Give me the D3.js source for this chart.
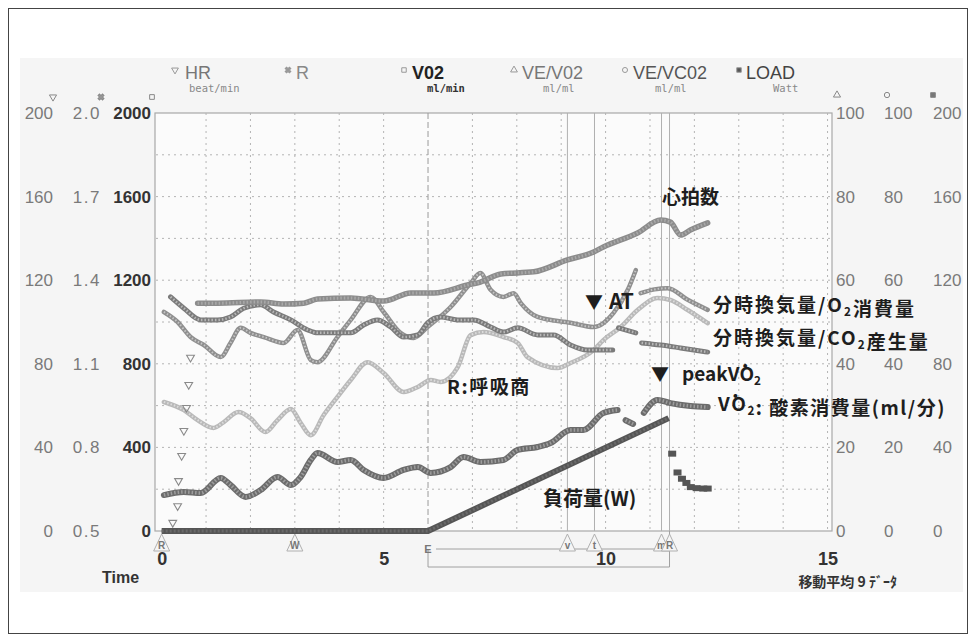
<!DOCTYPE html>
<html>
<head>
<meta charset="utf-8">
<script src="https://cdn.jsdelivr.net/npm/d3@7"></script>
<style>
  body { margin: 0; background: #fff; }
  text { font-family: "Liberation Sans Narrow", "Liberation Sans", Arial, sans-serif; }
  .jp { font-family: "Noto Sans CJK JP", "Noto Sans", sans-serif; font-weight: 700; fill: #1e1e1e; }
</style>
</head>
<body>
<div id="chart"></div>
<script>
// ---- data (time in minutes) ----
const timeTicks = [0, 5, 10, 15];
const hrTicks = [0, 40, 80, 120, 160, 200];
const rTicks = [0.5, 0.8, 1.1, 1.4, 1.7, 2.0];
const vo2Ticks = [0, 400, 800, 1200, 1600, 2000];
const veTicks = [0, 20, 40, 60, 80, 100];
const loadTicks = [0, 40, 80, 120, 160, 200];

// HR: first scattered samples, then the smoothed trace (beat/min)
const hrRise = [[0.25, 4], [0.36, 12], [0.38, 24], [0.45, 36], [0.50, 48], [0.56, 59], [0.61, 70], [0.65, 83]];
const hrTrace = [[0.81, 109], [1.26, 109], [2.23, 109.6], [2.75, 108.6], [3.2, 109], [3.51, 111], [4.26, 111.5],
  [5.0, 110], [5.61, 113.9], [6.13, 113.9], [6.89, 117.7], [7.18, 119.1], [7.64, 123], [8.38, 124], [9.14, 129.7],
  [9.73, 133.5], [9.95, 135.9], [10.72, 142.6], [11.24, 148.8], [11.46, 147.8], [11.69, 141.6], [11.91, 144], [12.3, 147.4]];

// R: respiratory quotient
const rTrace = [[0.05, 0.963], [0.5, 0.934], [0.81, 0.898], [1.17, 0.870], [1.40, 0.891], [1.73, 0.927], [2.0, 0.905],
  [2.34, 0.855], [2.61, 0.898], [2.91, 0.938], [3.13, 0.888], [3.36, 0.844], [3.65, 0.916], [3.96, 0.981], [4.26, 1.042],
  [4.64, 1.106], [5.0, 1.067], [5.45, 0.999], [5.77, 1.017], [6.06, 1.042], [6.28, 1.035], [6.67, 1.088], [6.96, 1.203],
  [7.25, 1.214], [7.7, 1.196], [8.02, 1.175], [8.24, 1.124], [8.92, 1.085], [9.21, 1.103], [9.73, 1.149], [9.95, 1.185],
  [10.34, 1.232], [10.72, 1.293], [11.17, 1.336], [11.46, 1.329], [11.85, 1.293], [12.3, 1.246]];

// VO2 (ml/min)
const vo2Trace = [[0.05, 172], [0.5, 187], [0.88, 182], [1.33, 254], [1.55, 220], [1.89, 163], [2.23, 196], [2.61, 258],
  [2.91, 220], [3.13, 258], [3.36, 340], [3.51, 373], [3.96, 330], [4.26, 340], [4.55, 292], [5.0, 254], [5.45, 292],
  [5.77, 306], [6.06, 278], [6.51, 306], [6.8, 354], [7.18, 330], [7.7, 340], [8.02, 388], [8.47, 402], [8.76, 421],
  [9.21, 483], [9.5, 483], [9.95, 565], [10.27, 579], null, [10.45, 530], [10.62, 512], null, [10.86, 565], [11.17, 627],
  [11.46, 612], [11.91, 598], [12.3, 593]];

// VE/VO2 (ml/ml)
const veVo2Trace = [[0.05, 52.4], [0.36, 50.0], [0.65, 46.4], [0.95, 44.5], [1.33, 41.6], [1.55, 45.0], [1.78, 48.6],
  [2.0, 47.4], [2.3, 46.4], [2.75, 45.0], [3.06, 48.1], [3.36, 40.9], [3.51, 40.4], [3.96, 46.4], [4.26, 50.5],
  [4.71, 56.0], [5.0, 52.4], [5.38, 47.4], [5.68, 46.2], [5.99, 48.8], [6.51, 53.6], [6.96, 59.3], [7.18, 61.7],
  [7.41, 57.7], [7.7, 56.0], [7.93, 56.9], [8.09, 54.5], [8.47, 51.2], [9.21, 49.8], [9.73, 48.8], [10.18, 52.2],
  [10.5, 57.7], [10.68, 62.4], null, [10.79, 56.9], [11.1, 57.8], [11.4, 58.1], [11.85, 55.3], [12.3, 52.9]];

// VE/VCO2 (ml/ml)
const veVco2Trace = [[0.2, 56.0], [0.5, 53.3], [0.88, 50.5], [1.26, 50.5], [1.55, 51.2], [1.85, 53.3], [2.23, 54.1],
  [2.52, 52.4], [2.91, 50.5], [3.29, 48.1], [3.51, 47.4], [4.26, 47.4], [4.55, 49.3], [4.86, 50.5], [5.16, 48.8],
  [5.45, 46.4], [5.77, 46.9], [5.99, 49.8], [6.28, 51.2], [6.67, 50.5], [7.03, 50.5], [7.41, 48.8], [7.7, 47.6],
  [8.02, 48.6], [8.47, 46.9], [8.83, 46.9], [9.21, 44.5], [9.59, 43.3], [10.16, 43.3], null, [10.29, 48.6],
  [10.68, 47.4], null, [10.81, 45.0], [11.24, 44.5], [11.69, 43.8], [12.3, 42.8]];

// LOAD (Watt): ramp, then recovery samples
const loadRamp = [[0, 0], [6, 0], [11.42, 54]];
const loadRecovery = [[11.5, 37], [11.62, 28], [11.72, 25], [11.82, 23], [11.92, 21], [12.05, 20.5], [12.2, 20.3], [12.3, 20.3]];

// event marks on the time axis
const eventTimes = [0, 3.0, 9.14, 9.75, 11.26, 11.44];
const eventLabels = ["R", "W", "v", "t", "m", "R"];
const exerciseStart = 6.0;

const W = 976, H = 642;
const svg = d3.select("#chart").append("svg")
  .attr("width", W).attr("height", H);

// outer frame + scanned paper tone
svg.append("rect").attr("x", 8.5).attr("y", 8.5).attr("width", 959).attr("height", 625)
  .attr("fill", "#fff").attr("stroke", "#444").attr("stroke-width", 1);
svg.append("rect").attr("x", 20).attr("y", 58).attr("width", 943).attr("height", 534)
  .attr("fill", "#f5f5f5");

// scales
const x = d3.scaleLinear().domain([-0.15, 15.1]).range([155, 832]);
const yTop = 113, yBot = 531;
const yVo2 = d3.scaleLinear().domain([0, 2000]).range([yBot, yTop]);
const yHr = d3.scaleLinear().domain([0, 200]).range([yBot, yTop]);
const yR = d3.scaleLinear().domain([0.5, 2.0]).range([yBot, yTop]);
const yVe = d3.scaleLinear().domain([0, 100]).range([yBot, yTop]);
const yLoad = d3.scaleLinear().domain([0, 200]).range([yBot, yTop]);

// plot box
svg.append("rect").attr("x", 155).attr("y", yTop).attr("width", 832 - 155).attr("height", yBot - yTop)
  .attr("fill", "#fbfbfb").attr("stroke", "#a8a8a8").attr("stroke-width", 1.2);

// grid
const grid = svg.append("g");
grid.selectAll("line.h").data(d3.range(200, 2000, 200)).enter().append("line")
  .attr("x1", 156).attr("x2", 831)
  .attr("y1", d => yVo2(d)).attr("y2", d => yVo2(d))
  .attr("stroke", "#b4b4b4").attr("stroke-dasharray", "2,4");
grid.selectAll("line.v").data(d3.range(1, 16)).enter().append("line")
  .attr("x1", d => x(d)).attr("x2", d => x(d))
  .attr("y1", yTop).attr("y2", yBot)
  .attr("stroke", d => d === exerciseStart ? "#9a9a9a" : "#b4b4b4")
  .attr("stroke-dasharray", d => d === exerciseStart ? "6,3" : "2,4");

// event lines
grid.selectAll("line.ev").data(eventTimes.slice(2)).enter().append("line")
  .attr("x1", d => x(d)).attr("x2", d => x(d))
  .attr("y1", yTop).attr("y2", yBot)
  .attr("stroke", "#b0b0b0").attr("stroke-width", 1);

// axes (labels only)
function labelAxis(axis, xpos, color, weight) {
  const g = svg.append("g").attr("transform", `translate(${xpos},0)`).call(axis);
  g.select(".domain").remove();
  g.selectAll(".tick line").remove();
  g.selectAll("text").attr("fill", color).style("font-size", "17px").style("font-weight", weight);
  return g;
}
const intFmt = d3.format("d");
labelAxis(d3.axisLeft(yHr).tickValues(hrTicks).tickSize(0).tickPadding(0).tickFormat(intFmt), 53, "#7a7a7a", 400);
labelAxis(d3.axisLeft(yR).tickValues(rTicks).tickSize(0).tickPadding(0).tickFormat(d3.format(".1f")), 101, "#7a7a7a", 400)
  .selectAll("text").style("letter-spacing", "1.5px");
labelAxis(d3.axisLeft(yVo2).tickValues(vo2Ticks).tickSize(0).tickPadding(0).tickFormat(intFmt), 151, "#333", 700);
labelAxis(d3.axisRight(yVe).tickValues(veTicks).tickSize(0).tickPadding(0).tickFormat(intFmt), 836, "#7a7a7a", 400);
labelAxis(d3.axisRight(yVe).tickValues(veTicks).tickSize(0).tickPadding(0).tickFormat(intFmt), 884, "#7a7a7a", 400);
labelAxis(d3.axisRight(yLoad).tickValues(loadTicks).tickSize(0).tickPadding(0).tickFormat(intFmt), 933, "#7a7a7a", 400);

const xAxis = svg.append("g").attr("transform", `translate(0,${yBot})`)
  .call(d3.axisBottom(x).tickValues(timeTicks).tickSize(0).tickPadding(0).tickFormat(intFmt));
xAxis.select(".domain").remove();
xAxis.selectAll("text").attr("y", 28).attr("dy", "0.35em")
  .attr("fill", "#333").style("font-size", "18px").style("font-weight", 700);

svg.append("text").attr("x", 102).attr("y", 583).attr("fill", "#333")
  .style("font-size", "16px").style("font-weight", 700).text("Time");
svg.append("text").attr("x", 897).attr("y", 587).attr("text-anchor", "end").attr("fill", "#333")
  .style("font-size", "14px").style("font-weight", 700)
  .style("font-family", "'Noto Sans CJK JP', sans-serif").text("移動平均 9 ﾃﾞｰﾀ");

// little series symbols above the tick columns
const sym = (type, size) => d3.symbol().type(type).size(size)();
const colSyms = [
  {x: 53, y: 97, t: d3.symbolTriangle, r: 180, fill: "none"},
  {x: 101, y: 97, t: d3.symbolCross, r: 45, fill: "#999"},
  {x: 152, y: 97, t: d3.symbolSquare, r: 0, fill: "none"},
  {x: 837, y: 95, t: d3.symbolTriangle, r: 0, fill: "none"},
  {x: 887, y: 95, t: d3.symbolCircle, r: 0, fill: "none"},
  {x: 933, y: 95, t: d3.symbolSquare, r: 0, fill: "#777"}
];
svg.selectAll("path.colsym").data(colSyms).enter().append("path")
  .attr("d", d => sym(d.t, 22))
  .attr("transform", d => `translate(${d.x},${d.y}) rotate(${d.r})`)
  .attr("fill", d => d.fill).attr("stroke", "#888").attr("stroke-width", 1);

// legend
const legend = [
  {sx: 175, tx: 185, name: "HR", unit: "beat/min", ux: 189, sym: d3.symbolTriangle, rot: 180, fill: "none", col: "#777", w: 400},
  {sx: 288, tx: 296, name: "R", unit: "", ux: 0, sym: d3.symbolCross, rot: 45, fill: "#999", col: "#888", w: 400},
  {sx: 404, tx: 412, name: "V02", unit: "ml/min", ux: 427, sym: d3.symbolSquare, rot: 0, fill: "none", col: "#222", w: 700},
  {sx: 514, tx: 522, name: "VE/V02", unit: "ml/ml", ux: 543, sym: d3.symbolTriangle, rot: 0, fill: "none", col: "#777", w: 400},
  {sx: 625, tx: 633, name: "VE/VC02", unit: "ml/ml", ux: 655, sym: d3.symbolCircle, rot: 0, fill: "none", col: "#555", w: 400},
  {sx: 739, tx: 746, name: "LOAD", unit: "Watt", ux: 773, sym: d3.symbolSquare, rot: 0, fill: "#555", col: "#444", w: 400}
];
const lg = svg.append("g");
lg.selectAll("path").data(legend).enter().append("path")
  .attr("d", d => sym(d.sym, 20))
  .attr("transform", d => `translate(${d.sx},70) rotate(${d.rot})`)
  .attr("fill", d => d.fill).attr("stroke", "#999");
lg.selectAll("text.name").data(legend).enter().append("text")
  .attr("x", d => d.tx).attr("y", 79).attr("fill", d => d.col)
  .style("font-size", "18px").style("font-weight", d => d.w).text(d => d.name);
lg.selectAll("text.unit").data(legend).enter().append("text")
  .attr("x", d => d.ux).attr("y", 92).attr("fill", d => d.col === "#222" ? "#333" : "#888")
  .style("font-size", "10.5px").style("font-weight", d => d.w)
  .style("font-family", "'DejaVu Sans Mono', monospace").text(d => d.unit);

// traces
const plot = svg.append("g");
function trace(data, yScale, color, width, texture) {
  const line = d3.line().defined(d => d !== null)
    .x(d => x(d[0])).y(d => yScale(d[1])).curve(d3.curveMonotoneX);
  plot.append("path").datum(data).attr("d", line)
    .attr("fill", "none").attr("stroke", color).attr("stroke-width", width)
    .attr("stroke-linejoin", "round").attr("stroke-linecap", "round");
  plot.append("path").datum(data).attr("d", line)
    .attr("fill", "none").attr("stroke", texture).attr("stroke-width", width - 2.5)
    .attr("stroke-dasharray", "1.5,2");
}
trace(rTrace, yR, "#b9b9b9", 4.5, "#dcdcdc");
trace(veVo2Trace, yVe, "#8f8f8f", 4.5, "#c4c4c4");
trace(veVco2Trace, yVe, "#7b7b7b", 5, "#b8b8b8");
trace(hrTrace, yHr, "#8c8c8c", 5.5, "#a9a9a9");
trace(vo2Trace, yVo2, "#6c6c6c", 6, "#9d9d9d");

// load ramp (dense squares) and recovery marks
plot.append("path").datum(loadRamp)
  .attr("d", d3.line().x(d => x(d[0])).y(d => yLoad(d[1])))
  .attr("fill", "none").attr("stroke", "#555").attr("stroke-width", 6);
plot.append("path").datum(loadRamp)
  .attr("d", d3.line().x(d => x(d[0])).y(d => yLoad(d[1])))
  .attr("fill", "none").attr("stroke", "#6a6a6a").attr("stroke-width", 3).attr("stroke-dasharray", "2,2");
plot.selectAll("rect.rec").data(loadRecovery).enter().append("rect")
  .attr("x", d => x(d[0]) - 4).attr("y", d => yLoad(d[1]) - 3)
  .attr("width", 8).attr("height", 6).attr("fill", "#555");

// early HR samples
plot.selectAll("path.hr0").data(hrRise).enter().append("path")
  .attr("d", sym(d3.symbolTriangle, 26))
  .attr("transform", d => `translate(${x(d[0])},${yHr(d[1])}) rotate(180)`)
  .attr("fill", "none").attr("stroke", "#8a8a8a").attr("stroke-width", 1.1);

// event markers and exercise bracket
const ev = svg.append("g");
ev.append("path")
  .attr("d", `M${x(exerciseStart)},${yBot + 36}H${x(11.44)}V${yBot}`)
  .attr("fill", "none").attr("stroke", "#a0a0a0");
ev.append("line").attr("x1", x(exerciseStart) + 8).attr("x2", x(11.44))
  .attr("y1", yBot + 18).attr("y2", yBot + 18).attr("stroke", "#a0a0a0");
ev.append("line").attr("x1", x(exerciseStart)).attr("x2", x(exerciseStart))
  .attr("y1", yBot + 18).attr("y2", yBot + 36).attr("stroke", "#a0a0a0");
ev.append("text").attr("x", x(exerciseStart)).attr("y", yBot + 22).attr("text-anchor", "middle")
  .attr("fill", "#777").style("font-size", "11px").style("font-weight", 700).text("E");
const evg = ev.selectAll("g.em").data(eventTimes).enter().append("g")
  .attr("transform", d => `translate(${x(d)},${yBot})`);
evg.append("path").attr("d", "M0,3L-8,20H8Z")
  .attr("fill", "#f5f5f5").attr("stroke", "#b0b0b0");
evg.append("text").attr("y", 18).attr("text-anchor", "middle")
  .attr("fill", "#777").style("font-size", "10px").style("font-weight", 700)
  .text((d, i) => eventLabels[i]);

// annotations
function note(xp, yp, parts, size, spacing) {
  const t = svg.append("text").attr("class", "jp").attr("x", xp).attr("y", yp)
    .style("font-size", size + "px").style("letter-spacing", (spacing || 0) + "px");
  parts.forEach(p => {
    if (typeof p === "string") t.append("tspan").text(p);
    else t.append("tspan").attr("dy", p.sub ? 4 : -4).style("font-size", (size * 0.62) + "px").text(p.sub || p.up);
  });
  return t;
}
note(662, 204, ["心拍数"], 19);
note(585, 309, ["▼"], 18);
note(609, 309, ["AT"], 21);
note(713, 312, ["分時換気量/O", {sub: "2"}, {up: ""}, "消費量"], 19, 2);
note(713, 345, ["分時換気量/CO", {sub: "2"}, {up: ""}, "産生量"], 19, 2);
note(651, 381, ["▼"], 18);
note(682, 381, ["peakV\u0307O", {sub: "2"}], 19);
note(718, 411, ["V\u0307O", {sub: "2"}, {up: ""}, ": 酸素消費量(ml/分)"], 19, 1.5);
note(447, 394, ["R:呼吸商"], 19, 1.5);
note(543, 506, ["負荷量(W)"], 20);
</script>
</body>
</html>
